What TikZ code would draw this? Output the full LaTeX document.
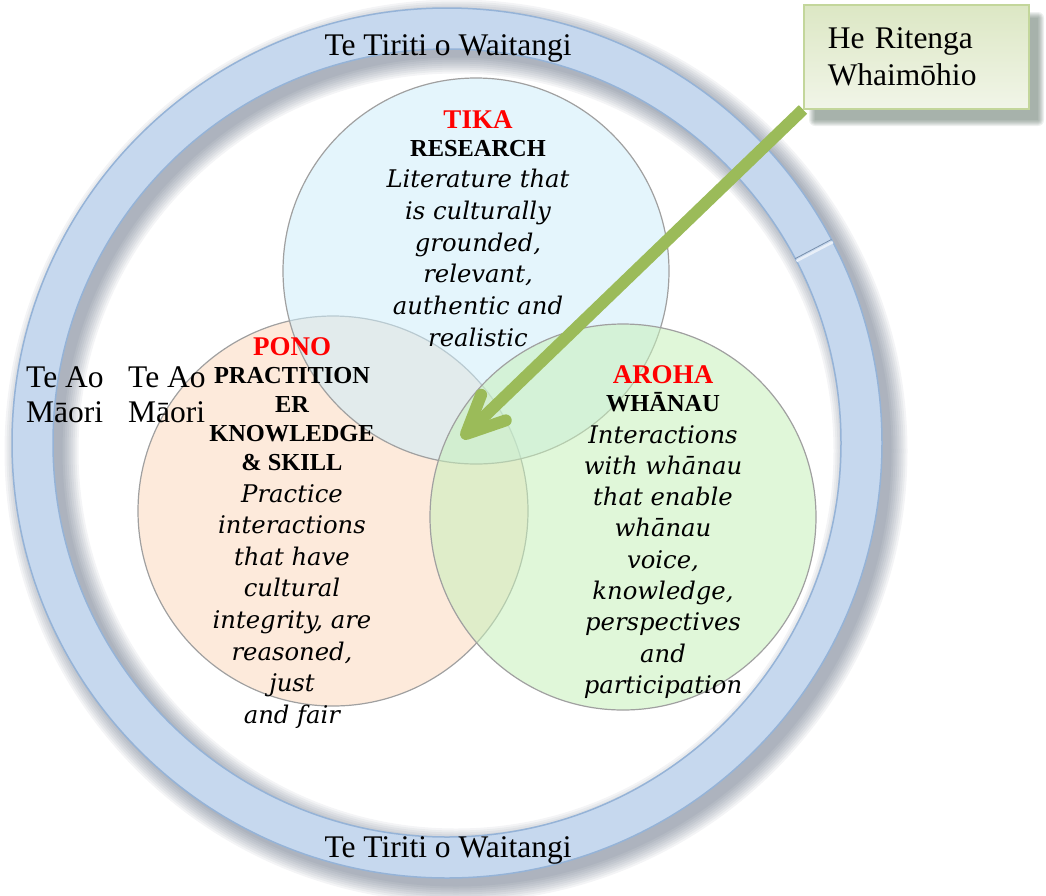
\documentclass[tikz,border=0pt]{standalone}
\usepackage{fontspec}
\setmainfont{Liberation Serif}
\newfontfamily\vennfont{DejaVu Serif}
\usetikzlibrary{calc,positioning}
\pgfdeclarelayer{front}
\pgfsetlayers{main,front}
\definecolor{ringblue}{HTML}{C6D8EE}
\definecolor{ringedge}{HTML}{95B3D7}
\definecolor{ringshade}{HTML}{3C4B64}
\definecolor{tikablue}{HTML}{CEEDFA}
\definecolor{ponopeach}{HTML}{FBD9BE}
\definecolor{arohagreen}{HTML}{C7F0BA}
\definecolor{vennedge}{HTML}{A0A0A0}
\definecolor{arrowgreen}{HTML}{9BBB59}
\definecolor{boxtop}{HTML}{DCE7C4}
\definecolor{boxbottom}{HTML}{F1F5E8}
\definecolor{boxedge}{HTML}{C3D69B}
\newcommand{\headred}{\rmfamily\upshape\bfseries\fontsize{27}{28}\selectfont\color{red}}
\newcommand{\headblack}{\rmfamily\upshape\bfseries\fontsize{24.4}{28}\selectfont}
\newcommand{\plainlabel}{\rmfamily\fontsize{31.5}{35}\selectfont}

\begin{document}
\begin{tikzpicture}[x=1pt,y=-1pt,
        venn/.style={circle,draw=vennedge,line width=1.2pt,fill opacity=0.55,minimum size=#1,inner sep=0pt},
        venntext/.style={anchor=north,align=center,inner sep=0pt,font=\vennfont\itshape\fontsize{24.3}{#1}\selectfont},
        ringtext/.style={font=\plainlabel,inner sep=0pt}]
        \useasboundingbox (0,0) rectangle (1046,895);
        \coordinate (c) at (447,443);
        % shadow of the ring
        \foreach \w in {42,46,...,74}
        \draw[ringshade,opacity=0.06,line width=\w pt] ($(c)+(9,8)$) circle (414.5);
        \draw[ringedge,line width=1.5pt,fill=ringblue,even odd rule] (c) circle (435) circle (394);
        \draw[white!60!ringblue,line width=2.5pt] ($(c)+(-27.5:394)$) -- ($(c)+(-27.5:435)$);
        \draw[ringedge!80!black,line width=0.8pt] ($(c)+(-27.9:394)$) -- ($(c)+(-27.9:435)$);
        % the three circles
        \node[venn=390,fill=ponopeach] (pono) at (333,511) {};
        \node[venn=386,fill=tikablue] (tika) at (476,271) {};
        \node[venn=386,fill=arohagreen] (aroha) at (623,517) {};
        \node[venntext=31.8] (tikatext) at (478,110.5) {{\headred TIKA}\\[-3.8pt]{\headblack RESEARCH}\\[-0.8pt]Literature that\\is culturally\\grounded,\\relevant,\\authentic and\\realistic};
        \node[venntext=31.6] (ponotext) at (292,337) {{\headred PONO}\\[-3.6pt]{\headblack PRACTITION}\\[-2.6pt]{\headblack ER}\\[-2.6pt]{\headblack KNOWLEDGE}\\[-2.6pt]{\headblack \& SKILL}\\[0.4pt]Practice\\interactions\\that have\\cultural\\integrity, are\\reasoned,\\just\\and fair};
        \node[venntext=31.3] (arohatext) at (663,365) {{\headred AROHA}\\[-3.3pt]{\headblack WHĀNAU}\\[0.7pt]Interactions\\with whānau\\that enable\\whānau\\voice,\\knowledge,\\perspectives\\and\\participation};
        % ring labels
        \node[ringtext,anchor=base] (tirititop) at (448,55) {Te Tiriti o Waitangi};
        \node[ringtext,anchor=base] (tiritibottom) at (448,857) {Te Tiriti o Waitangi};
        \node[ringtext,anchor=north west,align=left] (aoouter) at (26,366) {Te Ao\\Māori};
        \node[ringtext,anchor=north west,align=left] (aoinner) at (128,366) {Te Ao\\Māori};
        % box
        \begin{pgfonlayer}{front}
        \foreach \s in {0,...,6}
        \fill[ringshade!70!arrowgreen,opacity=0.1,rounded corners=\s pt] (815-\s,18-\s) rectangle (1038+\s,120+\s);
        \node[draw=boxedge,line width=1.5pt,top color=boxtop,bottom color=boxbottom,minimum width=225,minimum height=104,
            text width=177,align=left,inner sep=0pt,font={\plainlabel\fontsize{31.5}{37}\selectfont},anchor=north west] (ritenga) at (803,4) {He Ritenga\\Whaimōhio};
        \end{pgfonlayer}
        % arrow
        \coordinate (tip) at (466,434);
        \draw[arrowgreen,line width=12pt,shorten >=4pt] (ritenga.south west) -- (tip);
        \draw[arrowgreen,line width=12pt,line cap=round,line join=round] ($(tip)!42pt!25:(ritenga.south west)$) -- (tip) -- ($(tip)!42pt!-25:(ritenga.south west)$);
    \end{tikzpicture}
\end{document}
